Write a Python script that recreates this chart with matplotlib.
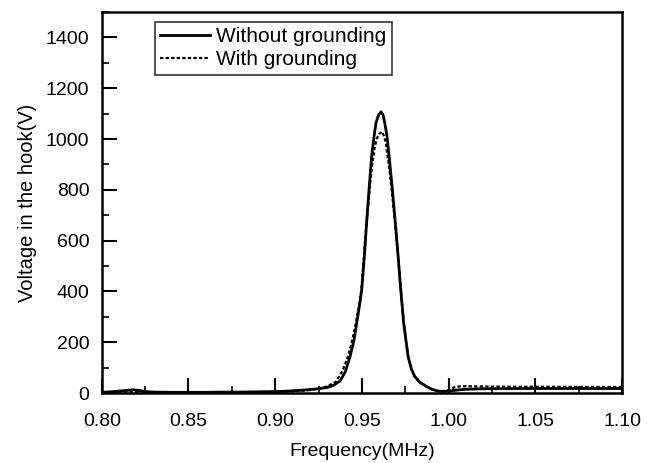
import matplotlib.pyplot as plt
from matplotlib.ticker import MultipleLocator

plt.rcParams['font.family'] = ['Liberation Sans', 'DejaVu Sans']

# values
freq_a = [0.800, 0.805, 0.810, 0.815, 0.818, 0.822, 0.825, 0.830, 0.840, 0.850,
          0.860, 0.870, 0.880, 0.890, 0.900, 0.905, 0.910, 0.915, 0.920, 0.925,
          0.930, 0.9335, 0.9375, 0.9405, 0.9432, 0.9455, 0.9470, 0.9485, 0.9499, 0.9514,
          0.9527, 0.9541, 0.9556, 0.9570, 0.9581, 0.9596, 0.9610, 0.9622, 0.9632, 0.9645,
          0.9657, 0.9676, 0.9693, 0.9709, 0.9724, 0.9741, 0.9766, 0.9785, 0.9804, 0.9835,
          0.9871, 0.9900, 0.9936, 0.9970, 1.000, 1.005, 1.010, 1.020, 1.040, 1.060,
          1.080, 1.100]
volt_a = [3, 5, 8, 11, 13, 10, 6, 4, 3, 3,
          3, 4, 4, 5, 6, 7, 9, 11, 14, 17,
          22, 30, 48, 85, 145, 210, 276, 340, 407, 538,
          669, 800, 932, 1010, 1063, 1095, 1107, 1095, 1063, 1010,
          932, 800, 669, 538, 407, 276, 145, 95, 66, 42,
          27, 16, 8, 6, 8, 12, 15, 17, 18, 18,
          18, 18]

freq_b = [0.800, 0.810, 0.820, 0.830, 0.850, 0.870, 0.890, 0.900, 0.910, 0.915,
          0.920, 0.925, 0.930, 0.9350, 0.9390, 0.9420, 0.9445, 0.9465, 0.9483, 0.9497,
          0.9512, 0.9525, 0.9540, 0.9556, 0.9572, 0.9585, 0.9600, 0.9616, 0.9628, 0.9638,
          0.9650, 0.9662, 0.9678, 0.9694, 0.9710, 0.9725, 0.9742, 0.9767, 0.9786, 0.9805,
          0.9836, 0.9872, 0.9900, 0.9935, 0.9970, 1.000, 1.003, 1.006, 1.010, 1.020,
          1.040, 1.060, 1.080, 1.100]
volt_b = [2, 4, 5, 3, 2, 3, 4, 5, 7, 9,
          12, 18, 26, 45, 90, 145, 210, 276, 340, 407,
          538, 650, 770, 880, 960, 1000, 1020, 1029, 1010, 985,
          925, 860, 760, 650, 530, 400, 272, 143, 94, 65,
          41, 26, 16, 9, 8, 12, 22, 26, 27, 26,
          25, 25, 24, 24]

fig = plt.figure(figsize=(6.61, 4.63), dpi=100)
ax = fig.add_axes([0.154, 0.151, 0.787, 0.823])

ax.plot(freq_a, volt_a, color='black', lw=2.0, label='Without grounding')
ax.plot(freq_b, volt_b, color='black', lw=1.6, linestyle=(0, (1.5, 1.0)),
        label='With grounding')

ax.set_xlim(0.80, 1.10)
ax.set_ylim(0, 1500)
ax.set_xticks([0.80, 0.85, 0.90, 0.95, 1.00, 1.05, 1.10])
ax.set_xticklabels(['0.80', '0.85', '0.90', '0.95', '1.00', '1.05', '1.10'])
ax.set_yticks([0, 200, 400, 600, 800, 1000, 1200, 1400])
ax.xaxis.set_minor_locator(MultipleLocator(0.025))
ax.yaxis.set_minor_locator(MultipleLocator(100))
ax.tick_params(which='major', direction='in', length=11, width=1.5, labelsize=14)
ax.tick_params(which='minor', direction='in', length=5, width=1.2)
ax.tick_params(axis='x', which='major', pad=14)
ax.tick_params(axis='y', which='major', pad=9)
for s in ax.spines.values():
    s.set_linewidth(1.8)

ax.set_xlabel('Frequency(MHz)', fontsize=14, labelpad=10)
ax.set_ylabel('Voltage in the hook(V)', fontsize=14.5, labelpad=6)

leg = ax.legend(loc='upper left', bbox_to_anchor=(0.102, 0.974), fontsize=15,
                frameon=True, fancybox=False, handlelength=2.4,
                borderpad=0.25, labelspacing=0.2, handletextpad=0.3, borderaxespad=0)
leg.get_frame().set_edgecolor('black')
leg.get_frame().set_linewidth(1.2)

fig.savefig('out.png', dpi=100)
